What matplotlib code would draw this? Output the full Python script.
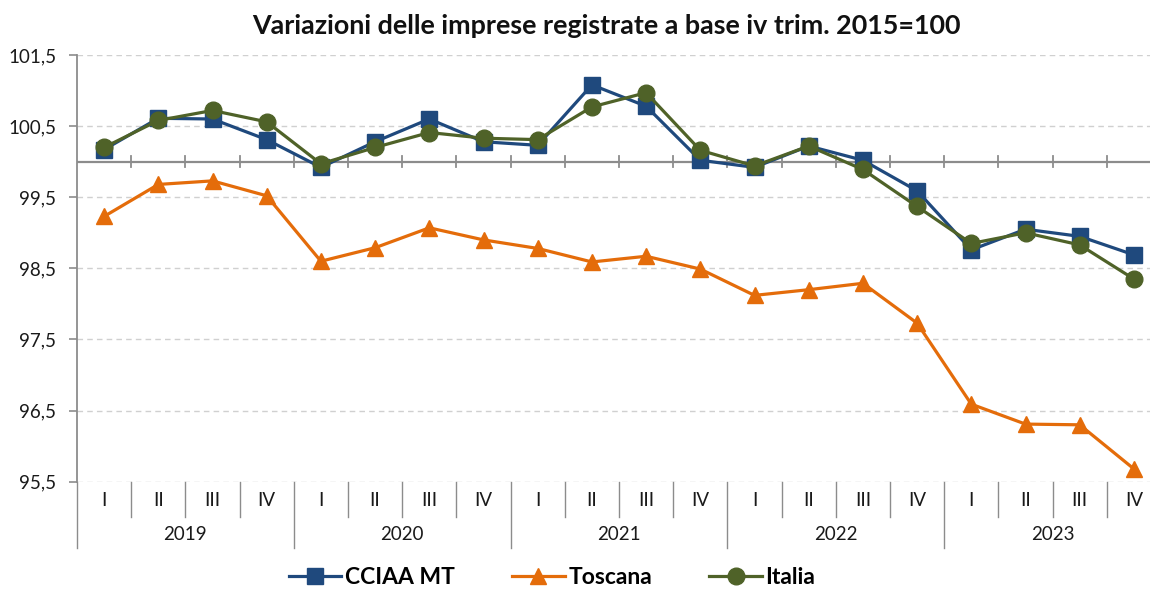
import matplotlib
matplotlib.use("Agg")
import matplotlib.pyplot as plt
import numpy as np

plt.rcParams['font.family'] = ['Lato', 'DejaVu Sans']

years = ["2019", "2020", "2021", "2022", "2023"]
quarters = ["I", "II", "III", "IV"]

cciaa = [100.17, 100.61, 100.60, 100.31,
         99.92, 100.28, 100.60, 100.28,
         100.23, 101.08, 100.78, 100.02,
         99.92, 100.22, 100.02, 99.59,
         98.76, 99.05, 98.95, 98.69]
toscana = [99.23, 99.68, 99.73, 99.52,
           98.60, 98.79, 99.07, 98.90,
           98.78, 98.59, 98.67, 98.49,
           98.12, 98.20, 98.29, 97.73,
           96.59, 96.31, 96.30, 95.68]
italia = [100.20, 100.58, 100.72, 100.56,
          99.97, 100.20, 100.41, 100.33,
          100.31, 100.77, 100.97, 100.16,
          99.94, 100.22, 99.89, 99.37,
          98.85, 99.00, 98.83, 98.35]

yticks = [95.5, 96.5, 97.5, 98.5, 99.5, 100.5, 101.5]
ytick_labels = ["95,5", "96,5", "97,5", "98,5", "99,5", "100,5", "101,5"]

W, H = 1150, 592
fig = plt.figure(figsize=(W / 100, H / 100), dpi=100)
left_px, right_px, top_px, bot_px = 77, 1161, 55, 481.7
ax = fig.add_axes([left_px / W, 1 - bot_px / H, (right_px - left_px) / W, (bot_px - top_px) / H])

n = len(cciaa)
x = np.arange(n)
ax.set_xlim(-0.5, n - 0.5)
ax.set_ylim(95.5, 101.5)

grey = '#8c8c8c'
txt = '#1a1a1a'
ax.set_yticks(yticks)
ax.set_yticklabels(ytick_labels, fontsize=13.5, color=txt)
ax.tick_params(axis='y', direction='out', length=6, width=1.2, color=grey, pad=9)
ax.set_xticks([])
ax.grid(axis='y', linestyle=(0, (4, 3)), color='#d0d0d0', linewidth=1.0)
ax.set_axisbelow(True)
for s in ['top', 'right', 'bottom']:
    ax.spines[s].set_visible(False)
ax.spines['left'].set_color(grey)
ax.spines['left'].set_linewidth(1.3)

# horizontal axis at 100 with tick marks at category boundaries
ax.axhline(100, color=grey, lw=1.6, zorder=2)
for b in np.arange(0.5, n - 0.5, 1.0):
    ax.plot([b, b], [100 - 0.08, 100 + 0.08], color=grey, lw=1.3, zorder=2)

# bottom category labels (multi-level)
trans = ax.get_xaxis_transform()
ph = bot_px - top_px
q_depth = -(517 - bot_px) / ph
y_depth = -(548 - bot_px) / ph
for b in np.arange(-0.5, n + 0.5, 1.0):
    depth = y_depth if (b + 0.5) % 4 == 0 else q_depth
    ax.plot([b, b], [0, depth], color=grey, lw=1.0, transform=trans, clip_on=False)
for i in range(n):
    ax.text(i, -(500 - bot_px) / ph, quarters[i % 4], transform=trans, ha='center', va='center',
            fontsize=13.5, color=txt)
for j, yr in enumerate(years):
    ax.text(j * 4 + 1.5, -(534 - bot_px) / ph, yr, transform=trans, ha='center', va='center',
            fontsize=13.5, color=txt)

l1, = ax.plot(x, cciaa, color='#1F497D', lw=2.3, marker='s', markersize=11, zorder=3, label='CCIAA MT')
l2, = ax.plot(x, toscana, color='#E46C0A', lw=2.3, marker='^', markersize=12, zorder=3, label='Toscana')
l3, = ax.plot(x, italia, color='#4F6228', lw=2.3, marker='o', markersize=12, zorder=4, label='Italia')

fig.text(606 / W, 1 - 26 / H, "Variazioni delle imprese registrate a base iv trim. 2015=100",
         ha='center', va='center', fontsize=19.4, fontweight='bold', color='#111111')

leg = fig.legend(handles=[l1, l2, l3], loc='center', bbox_to_anchor=(552 / W, 1 - 578 / H), ncol=3,
                 frameon=False, prop={'weight': 'bold', 'size': 16.5}, handlelength=2.3,
                 columnspacing=2.5, handletextpad=0.15)

fig.savefig('out.png', dpi=100)
